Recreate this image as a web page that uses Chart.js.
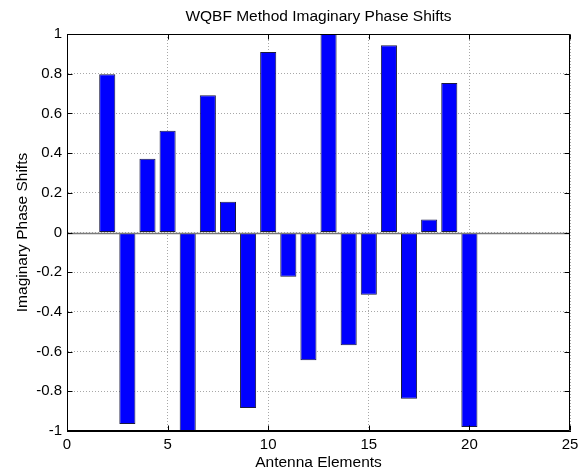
<!DOCTYPE html>
<html>
<head>
<meta charset="utf-8">
<script src="https://cdn.jsdelivr.net/npm/chart.js@4.4.1/dist/chart.umd.min.js"></script>
<style>
  html, body { margin: 0; padding: 0; background: #ffffff; }
  #c { display: block; }
</style>
</head>
<body>
<canvas id="c" width="587" height="470"></canvas>
<script>
// Antenna element indices and their imaginary phase shift values
const antennaElements = [2, 3, 4, 5, 6, 7, 8, 9, 10, 11, 12, 13, 14, 15, 16, 17, 18, 19, 20];
const imaginaryShifts = [0.797, -0.965, 0.372, 0.513, -1.0, 0.691, 0.155, -0.884, 0.909, -0.223,
                         -0.644, 1.0, -0.568, -0.313, 0.943, -0.837, 0.065, 0.753, -0.98];

// Axis ticks
const xTickValues = [0, 5, 10, 15, 20, 25];
const xTickLabels = ['0', '5', '10', '15', '20', '25'];
const yTickValues = [-1, -0.8, -0.6, -0.4, -0.2, 0, 0.2, 0.4, 0.6, 0.8, 1];
const yTickLabels = ['-1', '-0.8', '-0.6', '-0.4', '-0.2', '0', '0.2', '0.4', '0.6', '0.8', '1'];

const chartTitle = 'WQBF Method Imaginary Phase Shifts';
const FONT = "'Liberation Sans', Arial, Helvetica, sans-serif";

// Draws the zero baseline, the closed axes box, inward tick marks and the
// title centred over the plotting area
const axesBoxPlugin = {
  id: 'axesBox',
  afterDatasetsDraw(chart) {
    const { ctx, chartArea: a, scales: { x, y } } = chart;
    const L = Math.round(a.left) + 0.5, R = Math.round(a.right) - 0.5;
    const T = Math.round(a.top) + 0.5, B = Math.round(a.bottom) - 0.5;
    ctx.save();
    // baseline at zero
    const y0 = Math.round(y.getPixelForValue(0)) + 0.5;
    ctx.strokeStyle = '#7a7a7a';
    ctx.lineWidth = 1.5;
    ctx.beginPath();
    ctx.moveTo(L, y0);
    ctx.lineTo(R, y0);
    ctx.stroke();
    // box
    ctx.strokeStyle = '#000000';
    ctx.lineWidth = 1;
    ctx.beginPath();
    ctx.moveTo(L, T); ctx.lineTo(R, T); ctx.lineTo(R, B); ctx.lineTo(L, B); ctx.closePath();
    ctx.stroke();
    // inward ticks
    const len = 5;
    ctx.beginPath();
    xTickValues.forEach(v => {
      const px = Math.round(x.getPixelForValue(v)) + 0.5;
      ctx.moveTo(px, B); ctx.lineTo(px, B - len);
      ctx.moveTo(px, T); ctx.lineTo(px, T + len);
    });
    yTickValues.forEach(v => {
      const py = Math.round(y.getPixelForValue(v)) + 0.5;
      ctx.moveTo(L, py); ctx.lineTo(L + len, py);
      ctx.moveTo(R, py); ctx.lineTo(R - len, py);
    });
    ctx.stroke();
    // title
    ctx.fillStyle = '#000000';
    ctx.font = '15.5px ' + FONT;
    ctx.textAlign = 'center';
    ctx.textBaseline = 'middle';
    ctx.fillText(chartTitle, (a.left + a.right) / 2, 17);
    ctx.restore();
  }
};

new Chart(document.getElementById('c'), {
  type: 'bar',
  data: {
    datasets: [{
      data: antennaElements.map((e, i) => ({ x: e, y: imaginaryShifts[i] })),
      backgroundColor: '#0000ff',
      borderColor: '#1a1a40',
      borderWidth: 1,
      borderSkipped: false,
      barPercentage: 0.8,
      categoryPercentage: 1.0
    }]
  },
  options: {
    responsive: false,
    animation: false,
    devicePixelRatio: 1,
    layout: { padding: { left: 0, right: 17, top: 34, bottom: 0 } },
    plugins: {
      legend: { display: false },
      tooltip: { enabled: false },
      title: { display: false }
    },
    scales: {
      x: {
        type: 'linear',
        min: 0,
        max: 25,
        offset: false,
        afterBuildTicks: s => { s.ticks = xTickValues.map(v => ({ value: v })); },
        afterFit: s => { s.height = 39; },
        ticks: {
          padding: 5,
          color: '#000000',
          font: { family: FONT, size: 15 },
          maxRotation: 0,
          callback: v => xTickLabels[xTickValues.indexOf(v)]
        },
        grid: {
          offset: false,
          color: '#a8a8a8',
          lineWidth: 1,
          drawTicks: false
        },
        border: { display: true, color: '#000000', dash: [1, 2] },
        title: {
          display: true,
          text: 'Antenna Elements',
          color: '#000000',
          font: { family: FONT, size: 15.5, lineHeight: 1 },
          padding: { top: 0, bottom: 0 }
        }
      },
      y: {
        type: 'linear',
        min: -1,
        max: 1,
        afterBuildTicks: s => { s.ticks = yTickValues.map(v => ({ value: v })); },
        afterFit: s => { s.width = 67; },
        ticks: {
          padding: 5,
          color: '#000000',
          font: { family: FONT, size: 15 },
          callback: v => yTickLabels[yTickValues.findIndex(t => Math.abs(t - v) < 1e-9)]
        },
        grid: {
          color: '#a8a8a8',
          lineWidth: 1,
          drawTicks: false
        },
        border: { display: true, color: '#000000', dash: [1, 2] },
        title: {
          display: true,
          text: 'Imaginary Phase Shifts',
          color: '#000000',
          font: { family: FONT, size: 15.5, lineHeight: 1 },
          padding: { top: 15, bottom: 0 }
        }
      }
    }
  },
  plugins: [axesBoxPlugin]
});
</script>
</body>
</html>
